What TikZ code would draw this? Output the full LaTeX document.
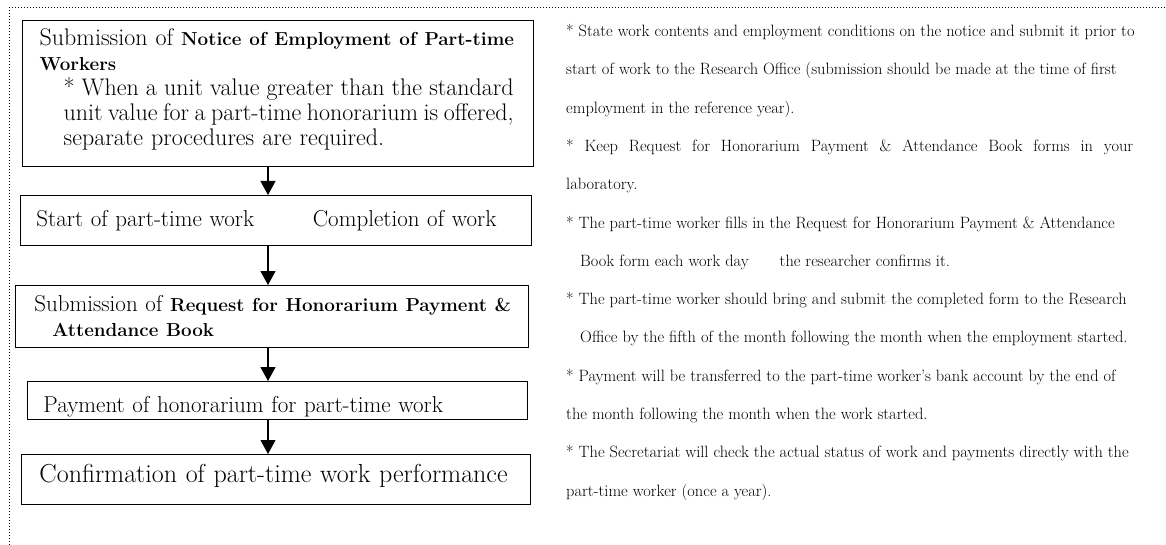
\documentclass[tikz,border=0pt]{standalone}
\usepackage{fontspec}
\usetikzlibrary{arrows.meta}
\newcommand{\jline}[2]{\makebox[#1][s]{\spaceskip=.3333em plus 1fil minus .15em\relax #2}}
\newcommand{\bld}[1]{{\fontsize{18.8}{25}\selectfont\bfseries #1}}
\tikzset{
	box/.style={draw, line width=0.9pt, rectangle, anchor=north west, inner ysep=2pt, align=left},
	flow/.style={line width=1.2pt, -{Triangle[length=14pt,width=15pt]}},
	note/.style={anchor=west, inner sep=0pt, font=\fontsize{16.4}{18}\selectfont},
	frame/.style={line width=0.8pt, dash pattern=on 0.8pt off 2.2pt}
}
\begin{document}
\begin{tikzpicture}[x=1pt,y=-1pt]
		\useasboundingbox (0,0) rectangle (1166,545);
		\draw[frame] (9,7) -- (1166,7);
		\draw[frame] (9,7) -- (9,545);
		
		% flow of boxes
		\node[box, line width=1.4pt, inner xsep=17pt, text width=477pt, minimum height=146pt, text height=16pt, text depth=112pt, font=\fontsize{24}{25}\selectfont] (b1) at (22,20)
			{\mbox{Submission of \bld{Notice of Employment of Part-time}}\\\bld{Workers}\\
			 \hspace*{24pt}\jline{450pt}{* When a unit value greater than the standard}\\
			 \hspace*{24pt}\jline{450pt}{unit value for a part-time honorarium is offered,}\\
			 \hspace*{24pt}separate procedures are required.};
		\node[box, inner xsep=16pt, text width=479pt, minimum height=50pt, font=\fontsize{23}{25}\selectfont] (b2) at (20,195)
			{\makebox[460pt][l]{Start of part-time work\hfill Completion of work}};
		\node[box, inner xsep=19pt, text width=475pt, minimum height=62pt, font=\fontsize{23}{25}\selectfont] (b3) at (15,285)
			{\mbox{Submission of \bld{Request for Honorarium Payment \&}}\\\hspace*{18pt}\bld{Attendance Book}};
		\node[box, inner xsep=16pt, text width=468pt, minimum height=38pt, text height=24pt, text depth=0pt, font=\fontsize{23}{25}\selectfont] (b4) at (27,381)
			{Payment of honorarium for part-time work};
		\node[box, inner xsep=18pt, text width=473pt, minimum height=50pt, text height=18pt, text depth=12pt, font=\fontsize{26}{28}\selectfont] (b5) at (21,454)
			{Confirmation of part-time work performance};
		
		\coordinate (ax) at (268,0);
		\draw[flow] (b1.south -| ax) -- (b2.north -| ax);
		\draw[flow] (b2.south -| ax) -- (b3.north -| ax);
		\draw[flow] (b3.south -| ax) -- (b4.north -| ax);
		\draw[flow] (b4.south -| ax) -- (b5.north -| ax);
		
		% notes on the right
		\node[note] (n1) at (566,32) {* State work contents and employment conditions on the notice and submit it prior to};
		\node[note] (n2) at (566,70) {start of work to the Research Office (submission should be made at the time of first};
		\node[note] (n3) at (566,109) {employment in the reference year).};
		\node[note] (n4) at (566,147) {\jline{567pt}{* Keep Request for Honorarium Payment \& Attendance Book forms in your}};
		\node[note] (n5) at (566,185) {laboratory.};
		\node[note] (n6) at (566,224) {* The part-time worker fills in the Request for Honorarium Payment \& Attendance};
		\node[note] (n7) at (580,262) {Book form each work day\hspace*{26pt} the researcher confirms it.};
		\node[note] (n8) at (566,300) {* The part-time worker should bring and submit the completed form to the Research};
		\node[note] (n9) at (580,338) {Office by the fifth of the month following the month when the employment started.};
		\node[note] (n10) at (566,377) {* Payment will be transferred to the part-time worker's bank account by the end of};
		\node[note] (n11) at (566,415) {the month following the month when the work started.};
		\node[note] (n12) at (566,453) {* The Secretariat will check the actual status of work and payments directly with the};
		\node[note] (n13) at (566,492) {part-time worker (once a year).};
\end{tikzpicture}
\end{document}
